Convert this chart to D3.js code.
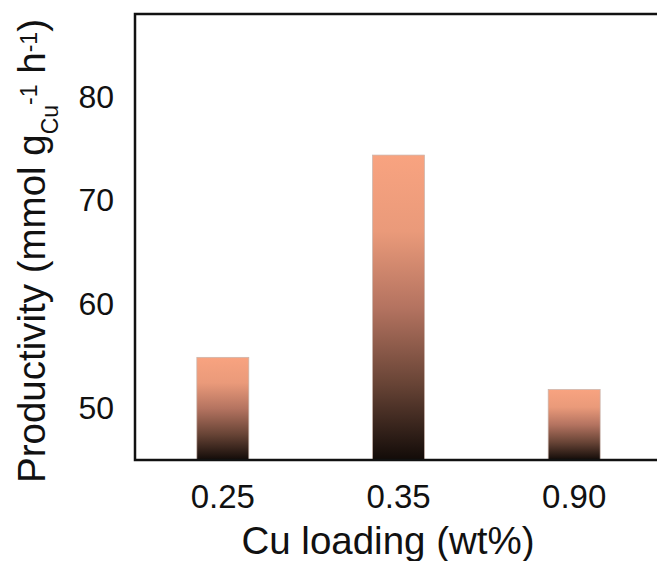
<!DOCTYPE html>
<html>
<head>
<meta charset="utf-8">
<script src="https://cdn.jsdelivr.net/npm/d3@7/dist/d3.min.js"></script>
<style>
  html, body { margin: 0; padding: 0; background: #fff; }
  svg { display: block; font-family: "Liberation Sans", Arial, sans-serif; }
</style>
</head>
<body>
<svg id="chart" width="657" height="561"></svg>
<script>
// Cu loading categories and productivity values
const loadings = ["0.25", "0.35", "0.90"];
const productivity = [54.9, 74.4, 51.8];
const yTicks = [50, 60, 70, 80];

const svg = d3.select("#chart");
const plotLeft = 135, plotRight = 662, plotTop = 14, plotBottom = 460;

const x = d3.scaleBand().domain(loadings).range([plotLeft, plotRight])
  .paddingInner(0.704).paddingOuter(0.352);
const y = d3.scaleLinear().domain([45, 88]).range([plotBottom, plotTop]);

// vertical copper-to-black fill, one gradient per bar box
const defs = svg.append("defs");
const grad = defs.append("linearGradient")
  .attr("id", "copper").attr("x1", 0).attr("y1", 0).attr("x2", 0).attr("y2", 1);
[[0, "#f8a380"], [0.25, "#ea9a7a"], [0.5, "#b47360"], [0.75, "#684436"], [1, "#120b08"]]
  .forEach(([o, c]) => grad.append("stop").attr("offset", o).attr("stop-color", c));

svg.append("g").selectAll("rect")
  .data(loadings.map((d, i) => ({ k: d, v: productivity[i] })))
  .join("rect")
  .attr("x", d => x(d.k))
  .attr("width", x.bandwidth())
  .attr("y", d => y(d.v))
  .attr("height", d => y(45) - y(d.v))
  .attr("fill", "url(#copper)")
  .attr("stroke", "#c9b5ad")
  .attr("stroke-width", 0.7);

// plot frame
svg.append("rect")
  .attr("x", plotLeft).attr("y", plotTop)
  .attr("width", plotRight - plotLeft).attr("height", plotBottom - plotTop)
  .attr("fill", "none").attr("stroke", "#111").attr("stroke-width", 2.5);

// y axis labels
const yAxis = d3.axisLeft(y).tickValues(yTicks).tickSize(0).tickPadding(21);
const gy = svg.append("g").attr("transform", `translate(${plotLeft},0)`).call(yAxis);
gy.select(".domain").remove();
gy.selectAll("text").attr("font-size", 32).attr("fill", "#111")
  .attr("font-family", "'Liberation Sans', Arial, sans-serif");

// x axis labels
const xAxis = d3.axisBottom(x).tickSize(0).tickPadding(25);
const gx = svg.append("g").attr("transform", `translate(0,${plotBottom})`).call(xAxis);
gx.select(".domain").remove();
gx.selectAll("text").attr("font-size", 33).attr("fill", "#111")
  .attr("font-family", "'Liberation Sans', Arial, sans-serif");

// axis titles
svg.append("text")
  .attr("x", 388).attr("y", 554)
  .attr("text-anchor", "middle")
  .attr("font-size", 38.5).attr("fill", "#111")
  .text("Cu loading (wt%)");

const yt = svg.append("text")
  .attr("transform", "translate(45,483) rotate(-90)")
  .attr("font-size", 38.5).attr("fill", "#111");
yt.append("tspan").text("Productivity (mmol g");
yt.append("tspan").attr("font-size", 23).attr("dy", 13).text("Cu");
yt.append("tspan").attr("font-size", 23).attr("dy", -21).text("-1");
yt.append("tspan").attr("dy", 8).text(" h");
yt.append("tspan").attr("font-size", 23).attr("dy", -8).text("-1");
yt.append("tspan").attr("dy", 8).text(")");
</script>
</body>
</html>
